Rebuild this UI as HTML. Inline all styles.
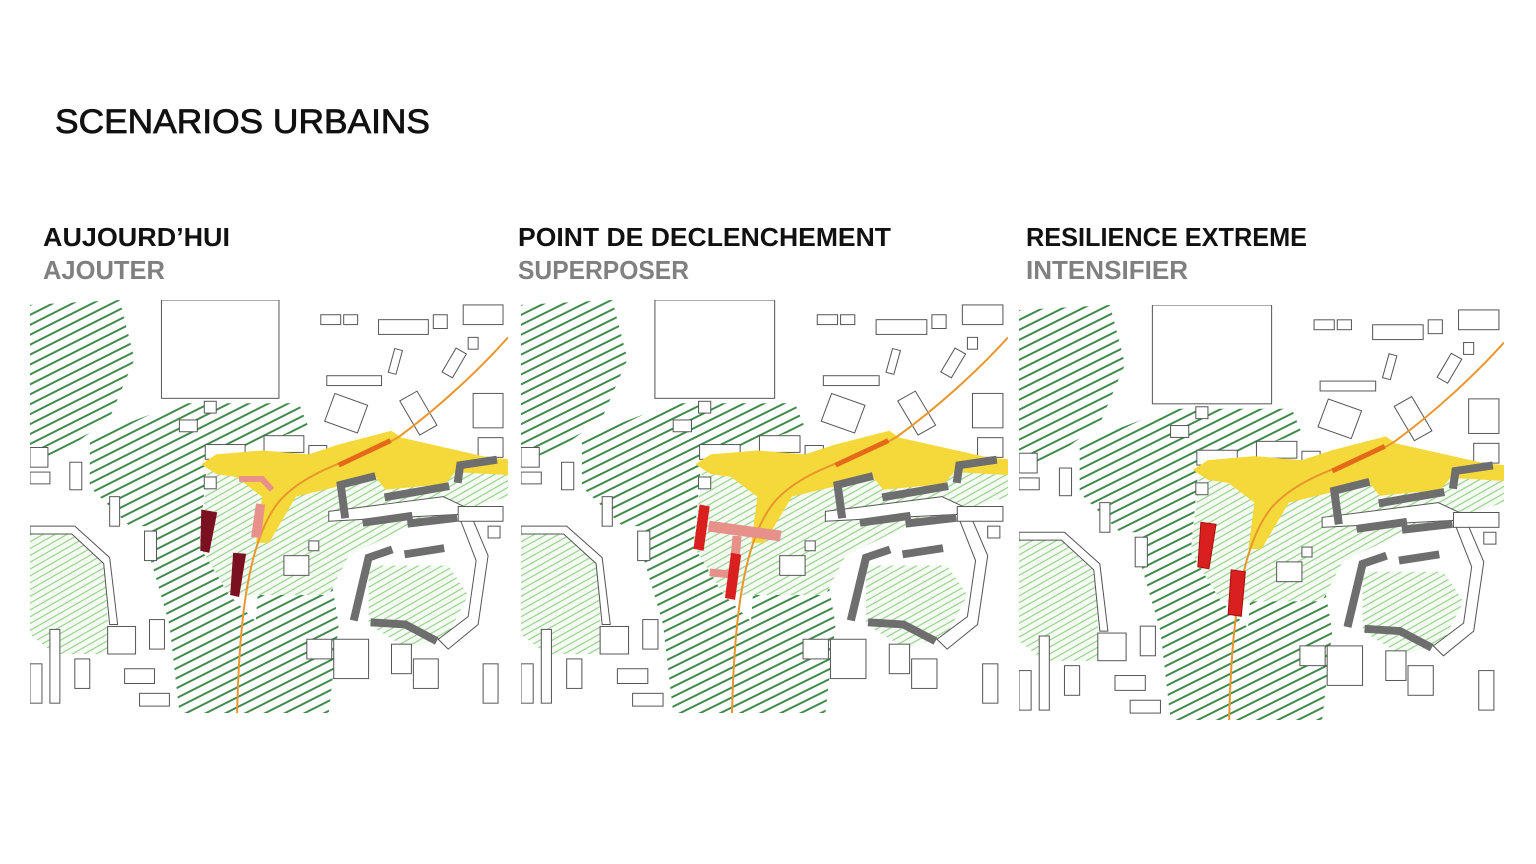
<!DOCTYPE html>
<html><head><meta charset="utf-8"><style>
html,body{margin:0;padding:0;background:#fff;}
svg{display:block;}
text{font-family:"Liberation Sans","DejaVu Sans",sans-serif;}
</style></head><body>
<svg width="1536" height="864" viewBox="0 0 1536 864" xmlns="http://www.w3.org/2000/svg">
<defs>
<pattern id="hd" patternUnits="userSpaceOnUse" width="9" height="9" patternTransform="rotate(-27)">
<rect width="9" height="9" fill="#fff"/><line x1="0" y1="4.5" x2="9" y2="4.5" stroke="#3f8a4c" stroke-width="2"/></pattern>
<pattern id="hl" patternUnits="userSpaceOnUse" width="6" height="6" patternTransform="rotate(-30)">
<rect width="6" height="6" fill="#f4fbf2"/><line x1="0" y1="3" x2="6" y2="3" stroke="#93cf88" stroke-width="1.1"/></pattern>
<symbol id="map" viewBox="0 0 480 420" preserveAspectRatio="none">
<g stroke="none">
<polygon fill="url(#hd)" points="0,5 90,0 105,60 80,120 40,150 0,165"/>
<polygon fill="url(#hd)" points="60,140 150,105 270,105 280,130 180,160 160,180 150,230 100,230 60,190"/>
<polygon fill="url(#hd)" points="130,150 180,140 170,250 200,300 230,330 220,420 150,420 140,330 120,260"/>
<polygon fill="url(#hd)" points="230,280 300,270 310,330 300,420 220,420"/>
<polygon fill="url(#hl)" points="0,235 45,235 75,265 80,360 25,360 0,340"/>
<polygon fill="url(#hl)" points="180,160 230,190 460,170 480,175 480,200 380,230 320,260 300,300 240,300 200,300 170,250"/>
<polygon fill="url(#hl)" points="340,270 420,270 440,300 420,340 380,355 340,330"/>
</g>
<g fill="#fff" stroke="#555" stroke-width="1">
<rect x="132" y="0" width="118" height="100"/>
<rect x="175" y="103" width="12" height="12"/>
<path d="M0,230 L45,230 L80,262 L88,330 L80,330 L74,268 L42,238 L0,238Z"/>
<path d="M300,215 L415,200 L440,212 L460,260 L450,330 L420,355 L410,345 L440,322 L448,265 L430,218 L300,225Z"/>
<rect x="292" y="15" width="20" height="10"/><rect x="315" y="15" width="14" height="10"/>
<rect x="350" y="20" width="50" height="15"/><rect x="405" y="15" width="14" height="14"/>
<rect x="435" y="5" width="40" height="20"/><rect x="440" y="38" width="10" height="12"/>
<rect x="298" y="77" width="55" height="10"/><rect x="363" y="50" width="8" height="25" transform="rotate(15 367 62)"/>
<rect x="420" y="50" width="12" height="28" transform="rotate(30 426 64)"/>
<rect x="300" y="100" width="35" height="30" transform="rotate(20 317 115)"/>
<rect x="380" y="95" width="20" height="40" transform="rotate(-30 390 115)"/>
<rect x="445" y="95" width="30" height="35"/><rect x="450" y="140" width="25" height="20"/>
<rect x="235" y="138" width="40" height="17"/><rect x="280" y="148" width="18" height="16"/>
<rect x="150" y="122" width="18" height="12"/>
<rect x="0" y="150" width="18" height="20"/><rect x="0" y="175" width="20" height="12"/>
<rect x="40" y="165" width="12" height="28"/><rect x="80" y="200" width="10" height="30"/>
<rect x="115" y="235" width="12" height="30"/><rect x="120" y="325" width="15" height="30"/>
<rect x="78" y="332" width="28" height="28"/><rect x="20" y="335" width="10" height="75"/>
<rect x="45" y="365" width="15" height="30"/><rect x="95" y="375" width="30" height="15"/>
<rect x="0" y="370" width="12" height="40"/><rect x="110" y="400" width="30" height="13"/>
<rect x="255" y="260" width="25" height="20"/><rect x="280" y="245" width="10" height="10"/>
<rect x="278" y="345" width="25" height="20"/><rect x="305" y="345" width="35" height="40"/>
<rect x="363" y="350" width="20" height="30"/><rect x="385" y="365" width="25" height="30"/>
<rect x="455" y="370" width="15" height="40"/><rect x="460" y="230" width="12" height="12"/>
<rect x="430" y="210" width="45" height="15"/>
<rect x="176" y="147" width="40" height="15"/><rect x="175" y="180" width="12" height="12"/>
</g>
<polygon fill="#f5d83a" points="172,167 187,157 233,153 280,157 310,147 363,133 373,140 460,160 480,162 480,178 427,175 417,187 357,193 347,180 320,187 267,200 240,247 227,247 233,200 207,180 187,177"/>
<path d="M208,420 C210,330 218,245 250,205 C282,168 340,160 372,138 C412,108 452,70 480,38" fill="none" stroke="#e8962e" stroke-width="2"/>
<line x1="310" y1="168" x2="362" y2="143" stroke="#e46a1a" stroke-width="5"/>
<g fill="none" stroke="#6e6e6e" stroke-width="8" stroke-linecap="square">
<polyline points="343,180 312,188 316,218"/>
<line x1="360" y1="200" x2="417" y2="190"/>
<polyline points="430,182 432,168 465,163"/>
<polyline points="338,226 380,220"/><line x1="383" y1="227" x2="425" y2="222"/>
<polyline points="360,255 340,262 326,322"/>
<line x1="380" y1="258" x2="412" y2="253"/>
<polyline points="346,328 377,330 405,345"/>
</g>
</symbol>
</defs>
<text x="55" y="133" font-size="34" fill="#111" stroke="#111" stroke-width="0.8" textLength="375" lengthAdjust="spacingAndGlyphs">SCENARIOS URBAINS</text>
<g font-size="26" font-weight="bold">
<text x="43" y="246" fill="#111" textLength="187" lengthAdjust="spacingAndGlyphs">AUJOURD’HUI</text>
<text x="43" y="279" fill="#808080" textLength="122" lengthAdjust="spacingAndGlyphs">AJOUTER</text>
<text x="518" y="246" fill="#111" textLength="373" lengthAdjust="spacingAndGlyphs">POINT DE DECLENCHEMENT</text>
<text x="518" y="279" fill="#808080" textLength="171" lengthAdjust="spacingAndGlyphs">SUPERPOSER</text>
<text x="1026" y="246" fill="#111" textLength="281" lengthAdjust="spacingAndGlyphs">RESILIENCE EXTREME</text>
<text x="1026" y="279" fill="#808080" textLength="162" lengthAdjust="spacingAndGlyphs">INTENSIFIER</text>
</g>
<svg x="30" y="300" width="478" height="413" viewBox="0 0 480 420" preserveAspectRatio="none">
<use href="#map" width="480" height="420"/>
<polygon fill="#7a1020" points="172,213 188,216 180,257 171,255"/>
<polygon fill="#7a1020" points="204,257 217,258 210,302 201,300"/>
<path d="M210,182 L233,182 L243,193" fill="none" stroke="#e8908a" stroke-width="6"/>
<polygon fill="#e8908a" points="227,207 236,208 232,242 222,241"/>
</svg>
<svg x="521" y="300" width="487" height="413" viewBox="0 0 480 420" preserveAspectRatio="none">
<use href="#map" width="480" height="420"/>
<line x1="185" y1="230" x2="256" y2="240" stroke="#e8908a" stroke-width="11"/>
<line x1="213" y1="240" x2="211" y2="262" stroke="#e8908a" stroke-width="9"/>
<line x1="186" y1="277" x2="206" y2="279" stroke="#e8908a" stroke-width="8"/>
<polygon fill="#d9201e" points="176,208 186,210 180,255 170,253"/>
<polygon fill="#d9201e" points="207,257 217,259 211,305 201,303"/>
</svg>
<svg x="1019" y="305" width="485" height="415" viewBox="0 0 480 420" preserveAspectRatio="none">
<use href="#map" width="480" height="420"/>
<polygon fill="#d9201e" stroke="#a01010" stroke-width="1" points="180,220 195,222 188,267 177,265"/>
<polygon fill="#d9201e" stroke="#a01010" stroke-width="1" points="210,268 224,270 220,315 207,313"/>
</svg>
</svg>
</body></html>
